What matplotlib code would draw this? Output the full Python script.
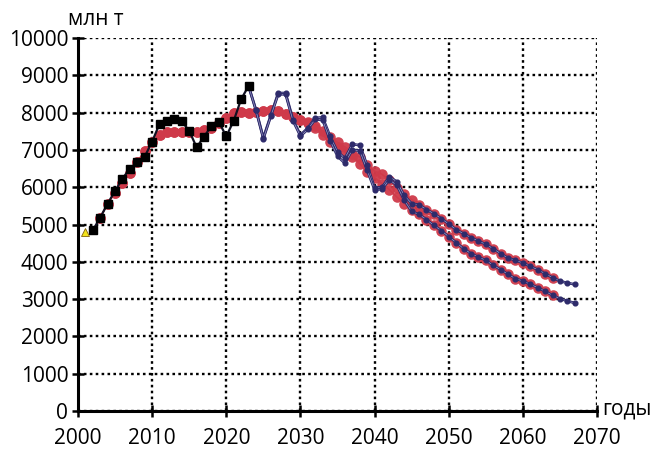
import numpy as np
import matplotlib.pyplot as plt

plt.rcParams['font.family'] = ['Open Sans', 'DejaVu Sans']

# Reported data (black squares)
hist_years = list(range(2002, 2024))
hist_vals = [4845, 5185, 5560, 5898, 6230, 6499, 6676, 6820, 7220, 7700, 7780,
             7815, 7766, 7510, 7070, 7355, 7640, 7748, 7365, 7780, 8356, 8713]

# Starting point (yellow triangle)
start_year = [2001]
start_val = [4800]

# Smoothed trend, two scenarios (red circles)
red_years = list(range(2003, 2065))
red_common = [5185, 5560, 5855, 6113, 6381, 6676, 6971, 7212, 7400, 7480,
              7490, 7480, 7470, 7480, 7520, 7600, 7710, 7860, 7990, 8010,
              8000, 8010, 8040, 8080, 8040, 7970, 7880, 7790]  # 2003-2030
red_hi_tail = [7740, 7650, 7500, 7340, 7200, 7080, 6900, 6810, 6590, 6430,
               6346, 6185, 5990, 5828, 5668, 5530, 5400, 5292, 5158, 5015,
               4863, 4756, 4649, 4558, 4469, 4353, 4220, 4102, 4040, 3968,
               3879, 3790, 3683, 3576]  # 2031-2064
red_lo_tail = [7720, 7600, 7400, 7212, 7078, 6944, 6810, 6632, 6408, 6256,
               6096, 5936, 5738, 5560, 5400, 5270, 5131, 4979, 4835, 4675,
               4515, 4354, 4220, 4129, 4040, 3906, 3790, 3665, 3549, 3485,
               3397, 3308, 3209, 3102]  # 2031-2064
red_hi = red_common + red_hi_tail
red_lo = red_common + red_lo_tail

# Forecast with cycles, two scenarios (navy dots)
fc_years = list(range(2023, 2068))
fc_hi = [8713, 8080, 7328, 7928, 8525, 8525, 7812, 7400, 7590, 7860, 7870,
         7370, 6950, 6780, 7150, 7130, 6590, 5990, 6000, 6280, 6150, 5780,
         5560, 5530, 5400, 5292, 5158, 5015, 4863, 4756, 4649, 4558, 4469,
         4353, 4220, 4102, 4040, 3968, 3879, 3790, 3683, 3576, 3485, 3432,
         3397]
fc_lo = [8713, 8060, 7300, 7900, 8490, 8490, 7780, 7370, 7550, 7820, 7800,
         7250, 6830, 6640, 7000, 6980, 6450, 5930, 5950, 6200, 6050, 5650,
         5350, 5270, 5131, 4979, 4835, 4675, 4515, 4354, 4220, 4129, 4040,
         3906, 3790, 3665, 3549, 3485, 3397, 3308, 3209, 3102, 3013, 2949,
         2895]

red = '#cf3a4a'
navy = '#2e2b6b'

fig = plt.figure(figsize=(6.52, 4.49), dpi=100)
ax = fig.add_axes([0.1196, 0.0846, 0.7961, 0.8308])

for vals in (red_hi, red_lo):
    ax.plot(red_years, vals, color=red, lw=1.2, marker='o', ms=7.6,
            markeredgewidth=0, alpha=0.95, zorder=3)

for vals in (fc_hi, fc_lo):
    ax.plot(fc_years, vals, color=navy, lw=1.9, zorder=4)
    ax.plot(fc_years, vals, color='#a09ecb', lw=0.5, zorder=4)
    ax.plot(fc_years, vals, ls='none', marker='o', ms=3.4, color=navy, zorder=5)

ax.plot(hist_years, hist_vals, color='#111122', lw=1.6, marker='s', ms=5.4,
        markerfacecolor='black', markeredgecolor='black', zorder=6)
ax.plot(start_year, start_val, ls='none', marker='^', ms=6, color='#f2e21a',
        markeredgecolor='#806010', markeredgewidth=0.6, zorder=7)

ax.set_xlim(2000, 2070)
ax.set_ylim(0, 10000)
ax.set_xticks(np.arange(2000, 2071, 10))
ax.set_yticks(np.arange(0, 10001, 1000))

ax.grid(True, color='black', linestyle=(0, (1.1, 1.4)), linewidth=1.7, zorder=1)
for side in ('top', 'right'):
    ax.spines[side].set_visible(False)
for side in ('left', 'bottom'):
    ax.spines[side].set_linewidth(2.2)
    ax.spines[side].set_zorder(8)

ax.tick_params(axis='both', direction='inout', length=8, width=1.8,
               labelsize=15, colors='black')
ax.tick_params(axis='x', pad=8)
ax.tick_params(axis='y', pad=3)

fig.text(0.104, 0.957, 'млн т', fontsize=15, ha='left', va='center')
fig.text(0.924, 0.09, 'годы', fontsize=15, ha='left', va='center')

fig.savefig('out.png', dpi=100)
